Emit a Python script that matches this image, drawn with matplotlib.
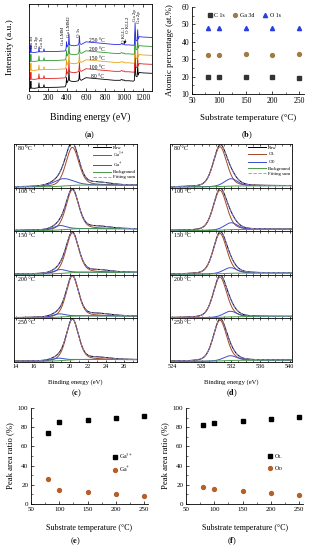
import numpy as np
import matplotlib
matplotlib.use('Agg')
import matplotlib.pyplot as plt
from matplotlib.ticker import MultipleLocator

plt.rcParams['font.family'] = ['Liberation Serif', 'DejaVu Serif']
plt.rcParams['mathtext.fontset'] = 'stix'
plt.rcParams['xtick.direction'] = 'in'
plt.rcParams['ytick.direction'] = 'in'
plt.rcParams['axes.linewidth'] = 0.6
plt.rcParams['xtick.major.width'] = 0.5
plt.rcParams['ytick.major.width'] = 0.5
plt.rcParams['xtick.minor.width'] = 0.4
plt.rcParams['ytick.minor.width'] = 0.4

# ---- data ----
temps = [80, 100, 150, 200, 250]
temp_labels = ['80 °C', '100 °C', '150 °C', '200 °C', '250 °C']

# (a) survey spectrum, one profile, stacked per temperature
survey_colors = ['black', '#e0201c', '#e3a41a', '#2f9a2f', '#2a2ae6']
survey_offset = [2.3, 12.6, 22.9, 33.2, 43.5]
survey_energy = [0, 10, 16, 20, 24, 60, 100, 105, 110, 150, 158, 163, 200, 300,
                 380, 390, 395, 400, 410, 416, 421, 426, 440, 480, 520, 526, 531,
                 536, 550, 600, 650, 700, 800, 900, 960, 975, 990, 1000, 1010,
                 1050, 1100, 1110, 1117, 1124, 1138, 1144, 1150, 1160, 1200, 1300]
survey_counts = [0.5, 0.5, 0.8, 9, 1, 0.8, 1.5, 7, 1.5, 1.6, 5, 1.8, 1.8, 2,
                 2.5, 5, 13, 7, 9, 11, 22, 10, 9, 8.5, 9.5, 12, 20,
                 11, 10, 13, 12.5, 12, 11, 10, 10, 11, 10, 10.5, 9.5,
                 9.5, 9, 10, 35, 15, 14, 27, 16, 19, 18.5, 18]
peak_names = ['Ga 3d', 'Ga 3p', 'Ga 3s', 'Ga LMM', 'Ga LMM2', 'O 1s',
              'O KLL1', 'O KLL2', 'Ga 2p', 'Ga 2p']
peak_label_x = [32, 81, 134, 360, 426, 524, 1000, 1042, 1115, 1160]
peak_label_y = [50, 50, 50, 53, 62.4, 61.7, 55, 66.7, 80.8, 78]

# (b) atomic percentage
c1s = [20.0, 19.7, 19.5, 20.0, 19.0]
ga3d = [32.2, 32.5, 32.8, 32.5, 33.0]
o1s = [48.0, 48.0, 48.0, 48.0, 48.0]

# (c) Ga 3d fits
ga3_center = [20.3, 20.3, 20.3, 20.3, 20.3]
ga3_height = [0.88, 0.91, 0.92, 0.93, 0.94]
ga3_sigma = [0.72, 0.70, 0.70, 0.68, 0.68]
ga1_center = [19.3, 18.9, 18.9, 18.8, 18.7]
ga1_height = [0.17, 0.10, 0.09, 0.075, 0.06]
ga1_sigma = [1.1, 0.75, 0.75, 0.75, 0.7]
o2s_center = 23.3
o2s_height = [0.05, 0.045, 0.045, 0.045, 0.04]
ga_bg_energy = [13.8, 17.5, 18.5, 19.5, 20.5, 21.5, 27.5]
ga_bg_value = [0.005, 0.008, 0.015, 0.03, 0.045, 0.05, 0.045]

# (d) O 1s fits
ol_center = [530.5, 530.5, 530.5, 530.5, 530.5]
ol_height = [0.92, 0.92, 0.93, 0.93, 0.94]
ol_sigma = [0.92, 0.92, 0.92, 0.92, 0.92]
od_center = [532.0, 532.0, 531.9, 531.9, 531.9]
od_height = [0.17, 0.16, 0.13, 0.13, 0.11]
od_sigma = [0.9, 0.9, 0.9, 0.9, 0.9]
o_bg_energy = [523.7, 528, 529.5, 531, 532.5, 534, 540.3]
o_bg_value = [0.005, 0.006, 0.01, 0.02, 0.028, 0.03, 0.035]

# (e), (f) peak area ratios
ga3_ratio = [74, 85, 87, 90, 92]
ga1_ratio = [26, 15, 13, 10, 8]
ol_ratio = [82, 84, 86, 89, 91]
od_ratio = [18, 16, 14, 11, 9]

W, H = 309, 550
fig = plt.figure(figsize=(W / 100, H / 100), dpi=100)


def box(l, t, r, b):
    return [l / W, 1 - b / H, (r - l) / W, (b - t) / H]


def peak(x, c, h, s, mix=0.3):
    g = np.exp(-0.5 * ((x - c) / s) ** 2)
    lo = 1 / (1 + ((x - c) / (1.177 * s)) ** 2)
    return h * ((1 - mix) * g + mix * lo)


brown = '#a5482a'
blue = '#3a4fd0'
green = '#4a9a4a'
dash = '#8a8ae8'

# ---- (a) ----
ax = fig.add_axes(box(29, 4, 152, 91))
for i in range(5):
    ax.plot(survey_energy, np.array(survey_counts) + survey_offset[i],
            color=survey_colors[i], lw=0.6)
    ax.text(716, survey_offset[i] + 12, temp_labels[i], fontsize=4,
            ha='center', va='bottom')
for name, px, py in zip(peak_names, peak_label_x, peak_label_y):
    ax.text(px, py, name, rotation=90, fontsize=3.5, ha='center', va='bottom')
ax.annotate('', xy=(990, 51), xytext=(1030, 62),
            arrowprops=dict(arrowstyle='-|>', lw=0.4, color='black',
                            mutation_scale=4))
ax.set_xlim(0, 1295)
ax.set_ylim(0, 100)
ax.set_yticks([])
ax.xaxis.set_major_locator(MultipleLocator(200))
ax.xaxis.set_minor_locator(MultipleLocator(100))
ax.tick_params(axis='x', which='both', top=True, labelsize=5.5, pad=2,
               length=2)
ax.tick_params(axis='x', which='minor', length=1.2)
ax.set_xlabel('Binding energy (eV)', fontsize=7)
ax.xaxis.set_label_coords(0.5, -0.30)
ax.xaxis.label.set_va('center')
ax.set_ylabel('Intensity (a.u.)', fontsize=6.8)
ax.yaxis.set_label_coords(-19 / 123, 0.5)
ax.yaxis.label.set_va('center')

# ---- (b) ----
ax = fig.add_axes(box(192, 7, 304, 94))
ax.plot(temps, c1s, 's', color='#333333', ms=2.6, label='C 1s')
ax.plot(temps, ga3d, 'o', color='#a07c45', ms=2.8, label='Ga 3d')
ax.plot(temps, o1s, '^', color='#2a3fe0', ms=3.0, label='O 1s')
ax.set_xlim(50, 259)
ax.set_ylim(10, 60)
ax.spines['top'].set_visible(False)
ax.spines['right'].set_visible(False)
ax.xaxis.set_major_locator(MultipleLocator(50))
ax.xaxis.set_minor_locator(MultipleLocator(25))
ax.yaxis.set_major_locator(MultipleLocator(10))
ax.yaxis.set_minor_locator(MultipleLocator(5))
ax.tick_params(which='both', labelsize=5.5, pad=2, length=2)
ax.tick_params(which='minor', length=1.2)
ax.set_xlabel('Substrate temperature (°C)', fontsize=6.4)
ax.xaxis.set_label_coords(0.5, -0.276)
ax.xaxis.label.set_va('center')
ax.set_ylabel('Atomic percentage (at.%)', fontsize=6.4)
ax.yaxis.set_label_coords(-22 / 112, 0.5)
ax.yaxis.label.set_va('center')
ax.legend(ncol=3, loc='center left', bbox_to_anchor=(0.1, 0.9),
          frameon=False, fontsize=4.2, handletextpad=0.2, columnspacing=1.2,
          handlelength=1.2, borderpad=0)

# ---- (c), (d) ----
top, bottom = 144, 362
step = (bottom - top) / 5
xc = np.linspace(13.8, 27.5, 400)
xd = np.linspace(523.7, 540.3, 400)
leg_kw = dict(loc='upper right', frameon=False, fontsize=3.4,
              handlelength=3.8, labelspacing=0.12, borderpad=0.15,
              handletextpad=0.3, borderaxespad=0.15)
for i in range(5):
    t = top + i * step
    b = t + step

    # Ga 3d
    ax = fig.add_axes(box(14, t, 137, b))
    bg = np.interp(xc, ga_bg_energy, ga_bg_value)
    main = peak(xc, ga3_center[i], ga3_height[i], ga3_sigma[i]) + bg
    sub = peak(xc, ga1_center[i], ga1_height[i], ga1_sigma[i]) + bg
    extra = peak(xc, o2s_center, o2s_height[i], 1.3)
    total = main + sub - bg + extra
    ax.plot(xc, total, color='black', lw=0.7, label='Raw')
    ax.plot(xc, main, color=brown, lw=0.7, label='Ga$^{3+}$')
    ax.plot(xc, sub, color=blue, lw=0.7, label='Ga$^{+}$')
    ax.plot(xc, bg, color=green, lw=0.7, label='Background')
    ax.plot(xc, total, color=dash, lw=0.6, ls=(0, (4, 2)), label='Fitting sum')
    ax.set_xlim(13.8, 27.5)
    ax.set_ylim(-0.01, 1.0)
    ax.set_yticks([])
    ax.xaxis.set_major_locator(MultipleLocator(2))
    ax.xaxis.set_minor_locator(MultipleLocator(1))
    ax.tick_params(axis='x', which='both', top=True, length=1.5,
                   labelsize=4.5, pad=1.5)
    ax.text(0.03, 0.9, temp_labels[i], transform=ax.transAxes, fontsize=4.3,
            va='center')
    if i == 0:
        ax.legend(**leg_kw)
    if i < 4:
        ax.tick_params(axis='x', labelbottom=False)
    else:
        ax.set_xlabel('Binding energy (eV)', fontsize=4.8)
        ax.xaxis.set_label_coords(0.5, -20 / step)
        ax.xaxis.label.set_va('center')

    # O 1s
    ax = fig.add_axes(box(170, t, 292, b))
    bg = np.interp(xd, o_bg_energy, o_bg_value)
    main = peak(xd, ol_center[i], ol_height[i], ol_sigma[i]) + bg
    sub = peak(xd, od_center[i], od_height[i], od_sigma[i]) + bg
    total = main + sub - bg
    ax.plot(xd, total, color='black', lw=0.7, label='Raw')
    ax.plot(xd, main, color=brown, lw=0.7, label='O$_\\mathrm{L}$')
    ax.plot(xd, sub, color=blue, lw=0.7, label='O$_\\mathrm{D}$')
    ax.plot(xd, bg, color=green, lw=0.7, label='Background')
    ax.plot(xd, total, color=dash, lw=0.6, ls=(0, (4, 2)), label='Fitting sum')
    ax.set_xlim(523.7, 540.3)
    ax.set_ylim(-0.01, 1.0)
    ax.set_yticks([])
    ax.xaxis.set_major_locator(MultipleLocator(4))
    ax.xaxis.set_minor_locator(MultipleLocator(1))
    ax.tick_params(axis='x', which='both', top=True, length=1.5,
                   labelsize=4.5, pad=1.5)
    ax.text(0.03, 0.9, temp_labels[i], transform=ax.transAxes, fontsize=4.3,
            va='center')
    if i == 0:
        ax.legend(**leg_kw)
    if i < 4:
        ax.tick_params(axis='x', labelbottom=False)
    else:
        ax.set_xlabel('Binding energy (eV)', fontsize=4.8)
        ax.xaxis.set_label_coords(0.5, -20 / step)
        ax.xaxis.label.set_va('center')

# ---- (e), (f) ----
for left, hi, lo, labs in [(31, ga3_ratio, ga1_ratio, ('Ga$^{3+}$', 'Ga$^{+}$')),
                           (186, ol_ratio, od_ratio, ('O$_\\mathrm{L}$', 'O$_\\mathrm{D}$'))]:
    ax = fig.add_axes(box(left, 408, left + 117, 504))
    ax.plot(temps, hi, 's', color='black', ms=2.8, label=labs[0])
    ax.plot(temps, lo, 'o', color='#b5602a', ms=2.8, label=labs[1])
    ax.set_xlim(50, 257)
    ax.set_ylim(0, 100)
    ax.spines['top'].set_visible(False)
    ax.spines['right'].set_visible(False)
    ax.xaxis.set_major_locator(MultipleLocator(50))
    ax.xaxis.set_minor_locator(MultipleLocator(25))
    ax.yaxis.set_major_locator(MultipleLocator(20))
    ax.yaxis.set_minor_locator(MultipleLocator(10))
    ax.tick_params(which='both', labelsize=5, pad=2, length=2)
    ax.tick_params(which='minor', length=1.2)
    ax.set_xlabel('Substrate temperature (°C)', fontsize=5.8)
    ax.xaxis.set_label_coords(0.5, -0.25)
    ax.xaxis.label.set_va('center')
    ax.set_ylabel('Peak area ratio (%)', fontsize=6.2)
    ax.yaxis.set_label_coords(-0.18, 0.5)
    ax.yaxis.label.set_va('center')
    ax.legend(loc='center left', bbox_to_anchor=(0.66, 0.43), frameon=False,
              fontsize=4.2, handletextpad=0.2, handlelength=1.2,
              labelspacing=0.6, borderpad=0)

# panel letters
for lab, x, y in [('a', 90, 135), ('b', 247, 135), ('c', 76, 393),
                  ('d', 232, 393), ('e', 75, 541), ('f', 232, 541)]:
    fig.text(x / W, 1 - y / H, '(' + '$\\mathbf{' + lab + '}$' + ')',
             fontsize=6, ha='center', va='center')

fig.savefig('out.png', dpi=100)
